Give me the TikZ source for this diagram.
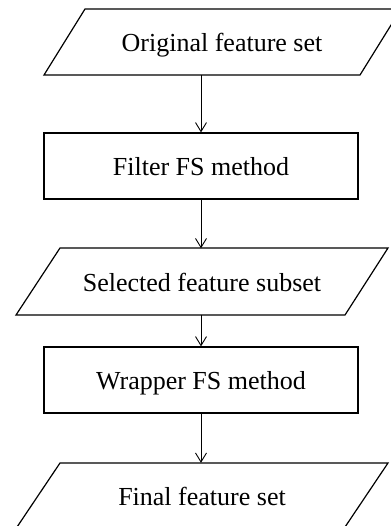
\documentclass[tikz,border=0pt]{standalone}
\usepackage{fontspec}
\setmainfont{Liberation Serif}
\usetikzlibrary{arrows.meta}
\begin{document}
\begin{tikzpicture}[x=1pt,y=-1pt,
  outline/.style={draw=black, line width=1.2pt, line join=miter},
  label/.style={inner sep=0pt, minimum height=66pt, text height=19pt, text depth=0pt,
    font=\fontsize{26}{30}\selectfont},
  procbox/.style={outline, label, minimum width=314pt},
  flow/.style={draw=black, line width=0.9pt, -{Straight Barb[length=9pt,width=11pt]}}]
\useasboundingbox (0,0) rectangle (390,526);

% input: original feature set (parallelogram)
\node[label] (orig) at (222,42) {Original feature set};
\draw[outline] (44,75) -- (360,75) -- (401,9) -- (85,9) -- cycle;

% filter stage
\node[procbox] (filter) at (201,166) {Filter FS method};

% intermediate subset (parallelogram)
\node[label] (subset) at (202,281.5) {Selected feature subset};
\draw[outline] (16,315) -- (345,315) -- (388,248) -- (60,248) -- cycle;

% wrapper stage
\node[procbox] (wrapper) at (201,380) {Wrapper FS method};

% output: final feature set (parallelogram)
\node[label] (final) at (202,496) {Final feature set};
\draw[outline] (15,530) -- (343,530) -- (388,463) -- (60,463) -- cycle;

% flow arrows
\draw[flow] (orig.south -| filter.north) -- (filter.north);
\draw[flow] (filter.south) -- (filter.south |- subset.north);
\draw[flow] (filter.south |- subset.south) -- (wrapper.north);
\draw[flow] (wrapper.south) -- (wrapper.south |- final.north);
\end{tikzpicture}
\end{document}
